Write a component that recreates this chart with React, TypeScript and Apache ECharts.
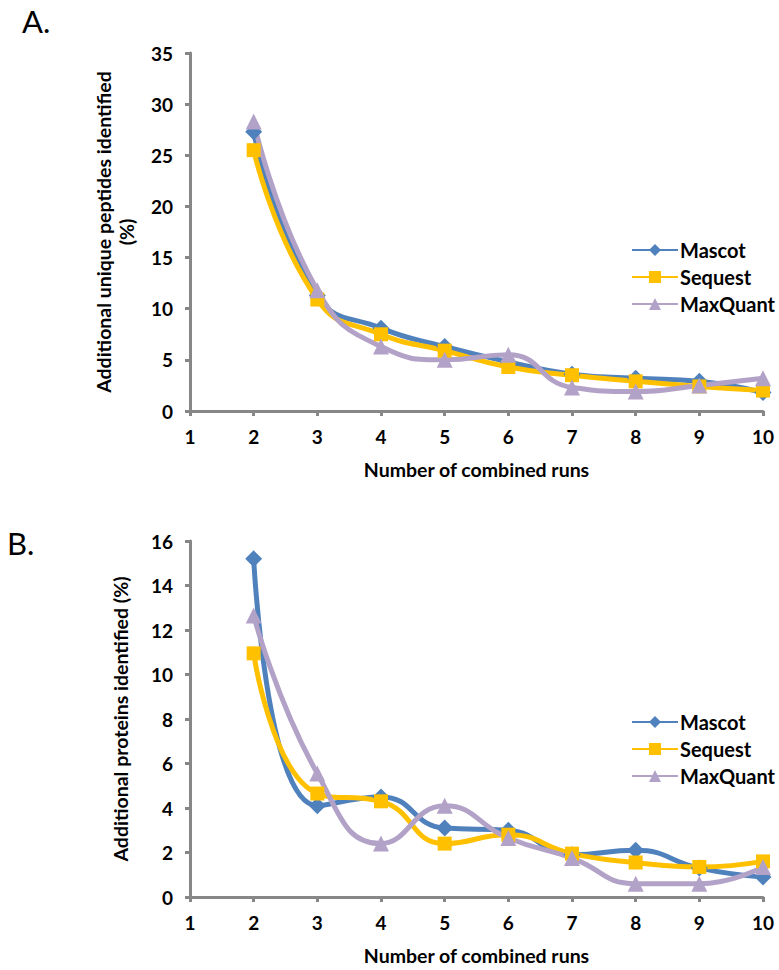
import React, { useEffect, useRef } from "react";
import * as echarts from "echarts";

const runs = [2, 3, 4, 5, 6, 7, 8, 9, 10];
const seriesNames = ["Mascot", "Sequest", "MaxQuant"];
const pepMascot = [27.3, 11.3, 8.1, 6.3, 4.8, 3.6, 3.2, 2.9, 1.8];
const pepSequest = [25.5, 10.9, 7.5, 5.9, 4.3, 3.5, 2.9, 2.4, 2.0];
const pepMaxQuant = [28.3, 11.8, 6.3, 5.0, 5.5, 2.3, 1.9, 2.5, 3.2];
const protMascot = [15.2, 4.1, 4.5, 3.1, 3.0, 1.9, 2.1, 1.3, 0.9];
const protSequest = [10.95, 4.65, 4.3, 2.4, 2.8, 1.95, 1.55, 1.35, 1.6];
const protMaxQuant = [12.65, 5.55, 2.4, 4.1, 2.65, 1.75, 0.6, 0.6, 1.35];

const colors = ["#4F81BD", "#FFC000", "#B3A2C7"];
const symbols = ["diamond", "rect", "triangle"];
const symbolSizes = [17, 14, 16];
const FONT = "Lato";
const AXIS_COLOR = "#878787";

function pairs(vals: number[]) {
  return runs.map((r, i) => [r, vals[i]]);
}

export default function App() {
  const ref = useRef<HTMLDivElement>(null);
  useEffect(() => {
    if (!ref.current) return;
    const chart = echarts.init(ref.current, undefined, { renderer: "svg" });
    const axisCommon = {
      axisLine: { show: true, lineStyle: { color: AXIS_COLOR, width: 3 } },
      axisTick: { show: true, length: 5, lineStyle: { color: AXIS_COLOR, width: 3 } },
      splitLine: { show: false },
      axisLabel: { color: "#000", fontFamily: FONT, fontWeight: "bold", fontSize: 19 },
      nameTextStyle: { color: "#000", fontFamily: FONT, fontWeight: "bold", fontSize: 19.5 },
    };
    const xAxisFor = (gi: number) => ({
      ...axisCommon,
      type: "value",
      gridIndex: gi,
      min: 1,
      max: 10,
      interval: 1,
      name: "Number of combined runs",
      nameLocation: "middle",
      nameGap: 48,
      axisLabel: { ...axisCommon.axisLabel, margin: 16 },
    });
    const data = [
      [pepMascot, pepSequest, pepMaxQuant],
      [protMascot, protSequest, protMaxQuant],
    ];
    const series: any[] = [];
    data.forEach((set, gi) => {
      set.forEach((vals, si) => {
        series.push({
          type: "line",
          name: seriesNames[si],
          xAxisIndex: gi,
          yAxisIndex: gi,
          data: pairs(vals),
          smooth: 0.5,
          symbol: symbols[si],
          symbolSize: symbolSizes[si],
          showSymbol: true,
          color: colors[si],
          lineStyle: { width: 5, color: colors[si] },
          itemStyle: { color: colors[si] },
        });
      });
    });
    const legendFor = (top: number) => ({
      orient: "vertical",
      left: 626,
      top,
      itemWidth: 46,
      itemHeight: 15,
      itemGap: 7,
      data: seriesNames,
      textStyle: { color: "#000", fontFamily: FONT, fontWeight: "bold", fontSize: 20, padding: [0, 0, 0, -3] },
    });
    chart.setOption({
      animation: false,
      backgroundColor: "#fff",
      grid: [
        { left: 190, top: 53, width: 573, height: 358 },
        { left: 190, top: 541, width: 573, height: 356 },
      ],
      xAxis: [xAxisFor(0), xAxisFor(1)],
      yAxis: [
        {
          ...axisCommon,
          type: "value",
          gridIndex: 0,
          min: 0,
          max: 35,
          interval: 5,
          name: "Additional unique peptides identified\n(%)",
          nameLocation: "middle",
          nameRotate: 90,
          nameGap: 52,
          nameTextStyle: { ...axisCommon.nameTextStyle, lineHeight: 23 },
          axisLabel: { ...axisCommon.axisLabel, margin: 17 },
        },
        {
          ...axisCommon,
          type: "value",
          gridIndex: 1,
          min: 0,
          max: 16,
          interval: 2,
          name: "Additional proteins identified (%)",
          nameLocation: "middle",
          nameRotate: 90,
          nameGap: 60,
          axisLabel: { ...axisCommon.axisLabel, margin: 17 },
        },
      ],
      legend: [legendFor(235), legendFor(707)],
      series,
      graphic: [
        {
          type: "text",
          left: 22,
          top: 5,
          style: { text: "A.", fontFamily: FONT, fontSize: 31, fill: "#000" },
        },
        {
          type: "text",
          left: 7,
          top: 527,
          style: { text: "B.", fontFamily: FONT, fontSize: 31, fill: "#000" },
        },
      ],
    });
    return () => chart.dispose();
  }, []);
  return (
    <div
      ref={ref}
      style={{ position: "fixed", left: 0, top: 0, width: 779, height: 970, background: "#fff" }}
    />
  );
}
